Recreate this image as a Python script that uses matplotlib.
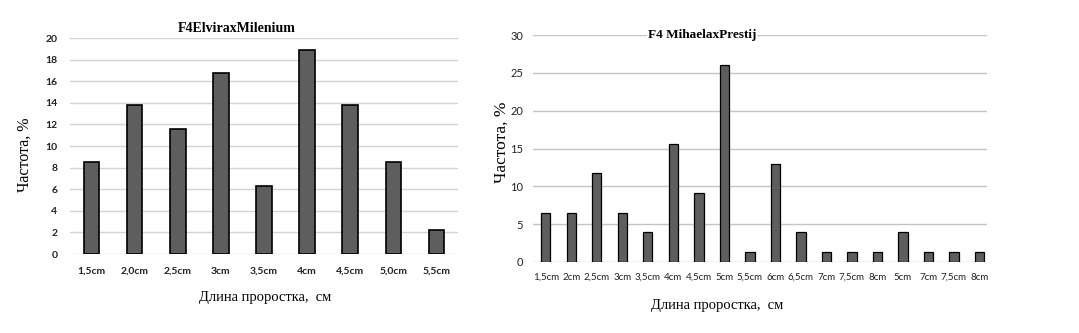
import matplotlib
matplotlib.use("Agg")
import matplotlib.pyplot as plt
import numpy as np

# данные левого графика
dlina_1 = ["1,5cm", "2,0cm", "2,5cm", "3cm", "3,5cm", "4cm", "4,5cm", "5,0cm", "5,5cm"]
chastota_1 = [8.5, 13.8, 11.6, 16.8, 6.3, 18.9, 13.8, 8.5, 2.2]
yticks_1 = [0, 2, 4, 6, 8, 10, 12, 14, 16, 18, 20]

# данные правого графика
dlina_2 = ["1,5cm", "2cm", "2,5cm", "3cm", "3,5cm", "4cm", "4,5cm", "5cm", "5,5cm",
           "6cm", "6,5cm", "7cm", "7,5cm", "8cm", "5cm", "7cm", "7,5cm", "8cm"]
chastota_2 = [6.5, 6.5, 11.7, 6.5, 4.0, 15.6, 9.1, 26.0, 1.3,
              13.0, 3.9, 1.3, 1.3, 1.3, 3.9, 1.3, 1.3, 1.3]
yticks_2 = [0, 5, 10, 15, 20, 25, 30]

serif = "Liberation Serif"
tick_font = "Lato"
bar_color = "#5e5e5e"

W, H = 1079, 333
fig = plt.figure(figsize=(W / 100, H / 100), dpi=100)


def px_axes(x0, y0, x1, y1):
    return fig.add_axes([x0 / W, 1 - y1 / H, (x1 - x0) / W, (y1 - y0) / H])


def oformit(ax, ymax, yticks, grid_color):
    ax.set_ylim(0, ymax)
    ax.set_yticks(yticks)
    for s in ax.spines.values():
        s.set_visible(False)
    ax.tick_params(length=0)
    ax.grid(axis="y", color=grid_color, linewidth=1)
    ax.set_axisbelow(True)


# левый график
ax1 = px_axes(70, 38, 458, 254)
x1 = np.arange(len(dlina_1))
ax1.bar(x1, chastota_1, width=0.36, color=bar_color, edgecolor="black", linewidth=1.2)
oformit(ax1, 20, yticks_1, "#d4d4d4")
ax1.set_xlim(-0.5, len(dlina_1) - 0.5)
ax1.set_xticks(x1)
ax1.set_xticklabels(dlina_1, fontfamily=tick_font, fontsize=7.5, fontweight="bold", color="#222222")
ax1.set_yticklabels(yticks_1, fontfamily=tick_font, fontsize=7.5, fontweight="bold", color="#222222")
ax1.tick_params(axis="x", pad=9)
ax1.tick_params(axis="y", pad=9)
fig.text(237 / W, 1 - 28 / H, "F4ElviraxMilenium", family=serif, fontsize=10,
         fontweight="bold", ha="center", va="center")
fig.text(265 / W, 1 - 297 / H, "Длина проростка,  см", family=serif, fontsize=10.5,
         ha="center", va="center")
fig.text(25 / W, 1 - 155 / H, "Частота, %", family=serif, fontsize=11.5,
         rotation=90, ha="center", va="center")

# правый график
ax2 = px_axes(533, 35, 987, 262)
x2 = np.arange(len(dlina_2))
ax2.bar(x2, chastota_2, width=0.37, color=bar_color, edgecolor="black", linewidth=0.9)
oformit(ax2, 30, yticks_2, "#c4c4c4")
ax2.set_xlim(-0.5, 17.3)
ax2.set_xticks(x2)
ax2.set_xticklabels(dlina_2, fontfamily=tick_font, fontsize=7, color="#222222")
ax2.set_yticklabels(yticks_2, fontfamily=tick_font, fontsize=8, color="#222222")
ax2.tick_params(axis="x", pad=8)
ax2.tick_params(axis="y", pad=7)
fig.text(702 / W, 1 - 35 / H, "F4 MihaelaxPrestij", family=serif, fontsize=9.5,
         fontweight="bold", ha="center", va="center",
         bbox=dict(facecolor="white", edgecolor="none", pad=0.5))
fig.text(717 / W, 1 - 305 / H, "Длина проростка,  см", family=serif, fontsize=10.5,
         ha="center", va="center")
fig.text(502 / W, 1 - 142 / H, "Частота, %", family=serif, fontsize=12.5,
         rotation=90, ha="center", va="center")

fig.savefig("out.png", dpi=100)
